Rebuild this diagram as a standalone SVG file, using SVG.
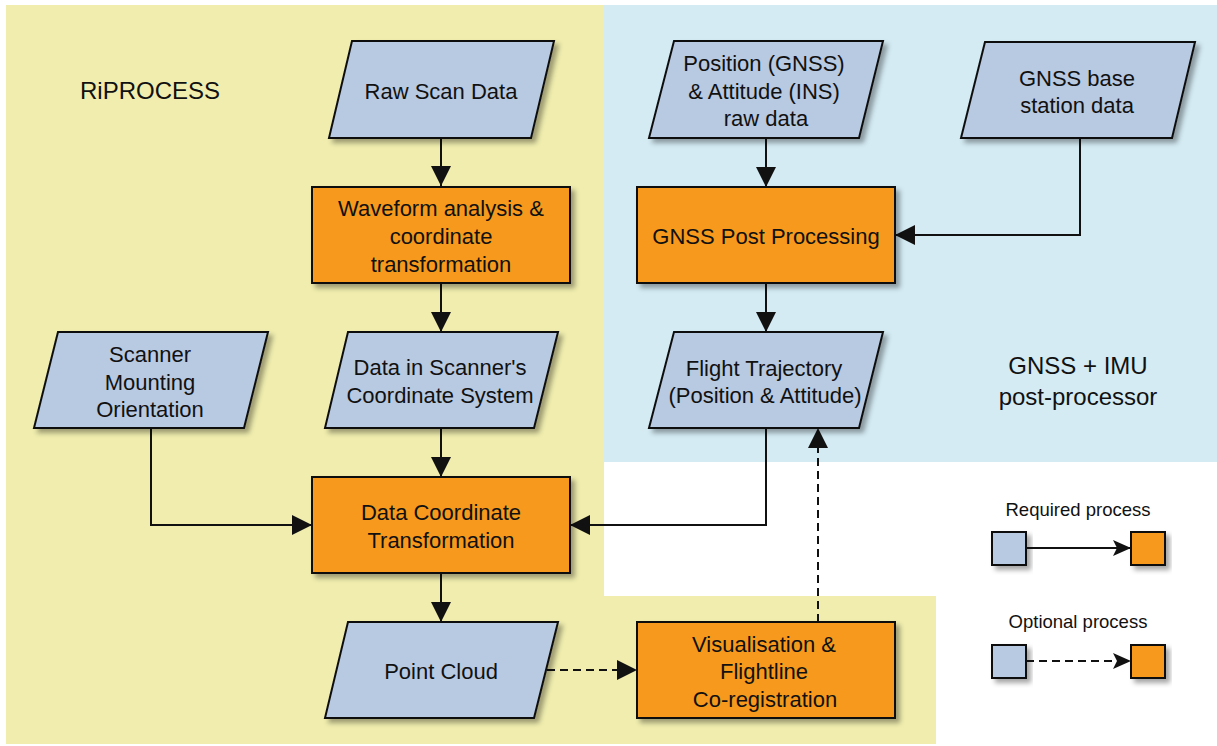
<svg xmlns="http://www.w3.org/2000/svg" width="1217" height="746" viewBox="0 0 1217 746">
<style>
.t{font-family:"Liberation Sans",Arial,sans-serif;font-size:22px;fill:#111;text-anchor:middle}
.big{font-size:24px}
.leg{font-size:18.5px}
.data{fill:#B8C9E2;stroke:#111;stroke-width:2;stroke-linejoin:miter}
.proc{fill:#F7991E;stroke:#111;stroke-width:2}
.c{fill:none;stroke:#111;stroke-width:2}
.d{stroke-dasharray:8 5}
</style>
<defs>
<filter id="sh" x="-10%" y="-10%" width="130%" height="140%">
<feDropShadow dx="4" dy="4" stdDeviation="2.5" flood-color="#000" flood-opacity="0.35"/>
</filter>
<marker id="ah" markerUnits="userSpaceOnUse" markerWidth="20" markerHeight="20" refX="20" refY="10" orient="auto">
<path d="M0,0 L20,10 L0,20 z" fill="#111"/>
</marker>
<marker id="ahl" markerUnits="userSpaceOnUse" markerWidth="18" markerHeight="16" refX="18" refY="8" orient="auto">
<path d="M0,0 L18,8 L0,16 L4,8 z" fill="#111"/>
</marker>
</defs>
<g id="backgrounds">
<path d="M6,5 H604 V596 H936 V744 H6 Z" fill="#F0EDAE"/>
<rect x="604" y="5" width="613" height="457" fill="#D4EBF4"/>
<text class="t big" x="150" y="99">RiPROCESS</text>
<text class="t big" x="1078" y="374">GNSS + IMU</text>
<text class="t big" x="1078" y="405">post-processor</text>
</g>
<g id="connectors">
<path class="c" d="M441,138 V186" marker-end="url(#ah)"/>
<path class="c" d="M441,283 V332" marker-end="url(#ah)"/>
<path class="c" d="M441,428 V477" marker-end="url(#ah)"/>
<path class="c" d="M441,573 V622" marker-end="url(#ah)"/>
<path class="c" d="M151,428 V525 H312" marker-end="url(#ah)"/>
<path class="c" d="M766,428 V525 H570" marker-end="url(#ah)"/>
<path class="c" d="M766,138 V187" marker-end="url(#ah)"/>
<path class="c" d="M766,283 V332" marker-end="url(#ah)"/>
<path class="c" d="M1080,138 V235 H895" marker-end="url(#ah)"/>
<path class="c d" d="M547,670 H637" marker-end="url(#ah)"/>
<path class="c d" d="M818,622 V428" marker-end="url(#ah)"/>
</g>
<g id="raw-scan-data">
<path class="data" filter="url(#sh)" d="M352,41 H554 L531,138 H329 Z"/>
<text class="t" x="441" y="99">Raw Scan Data</text>
</g>
<g id="waveform">
<rect class="proc" filter="url(#sh)" x="312" y="187" width="258" height="96"/>
<text class="t" x="441" y="216">Waveform analysis &amp;</text>
<text class="t" x="441" y="244">coordinate</text>
<text class="t" x="441" y="272">transformation</text>
</g>
<g id="data-scanner">
<path class="data" filter="url(#sh)" d="M348,332 H558 L534,428 H325 Z"/>
<text class="t" x="440" y="375">Data in Scanner's</text>
<text class="t" x="440" y="403">Coordinate System</text>
</g>
<g id="scanner-mounting">
<path class="data" filter="url(#sh)" d="M58,332 H268 L244,428 H34 Z"/>
<text class="t" x="150" y="362">Scanner</text>
<text class="t" x="150" y="390">Mounting</text>
<text class="t" x="150" y="417">Orientation</text>
</g>
<g id="data-coordinate">
<rect class="proc" filter="url(#sh)" x="312" y="477" width="258" height="96"/>
<text class="t" x="441" y="520">Data Coordinate</text>
<text class="t" x="441" y="548">Transformation</text>
</g>
<g id="point-cloud">
<path class="data" filter="url(#sh)" d="M348,622 H558 L534,718 H325 Z"/>
<text class="t" x="441" y="679">Point Cloud</text>
</g>
<g id="position-attitude">
<path class="data" filter="url(#sh)" d="M674,41 H883 L859,138 H649 Z"/>
<text class="t" x="764" y="71">Position (GNSS)</text>
<text class="t" x="764" y="99">&amp; Attitude (INS)</text>
<text class="t" x="766" y="126">raw data</text>
</g>
<g id="gnss-base">
<path class="data" filter="url(#sh)" d="M985,42 H1195 L1172,138 H961 Z"/>
<text class="t" x="1077" y="86">GNSS base</text>
<text class="t" x="1077" y="113">station data</text>
</g>
<g id="gnss-post">
<rect class="proc" filter="url(#sh)" x="637" y="187" width="258" height="96"/>
<text class="t" x="766" y="244">GNSS Post Processing</text>
</g>
<g id="flight-trajectory">
<path class="data" filter="url(#sh)" d="M674,332 H883 L859,428 H649 Z"/>
<text class="t" x="764" y="376">Flight Trajectory</text>
<text class="t" x="765" y="403">(Position &amp; Attitude)</text>
</g>
<g id="visualisation">
<rect class="proc" filter="url(#sh)" x="637" y="622" width="258" height="96"/>
<text class="t" x="764" y="652">Visualisation &amp;</text>
<text class="t" x="764" y="679">Flightline</text>
<text class="t" x="765" y="707">Co-registration</text>
</g>
<g id="legend">
<text class="t leg" x="1078" y="516">Required process</text>
<rect class="data" filter="url(#sh)" x="992" y="532" width="34" height="33"/>
<rect class="proc" filter="url(#sh)" x="1131" y="532" width="34" height="33"/>
<path class="c" d="M1026,548 H1131" marker-end="url(#ahl)"/>
<text class="t leg" x="1078" y="628">Optional process</text>
<rect class="data" filter="url(#sh)" x="992" y="645" width="34" height="33"/>
<rect class="proc" filter="url(#sh)" x="1131" y="645" width="34" height="33"/>
<path class="c d" d="M1026,661 H1131" marker-end="url(#ahl)"/>
</g>
</svg>
